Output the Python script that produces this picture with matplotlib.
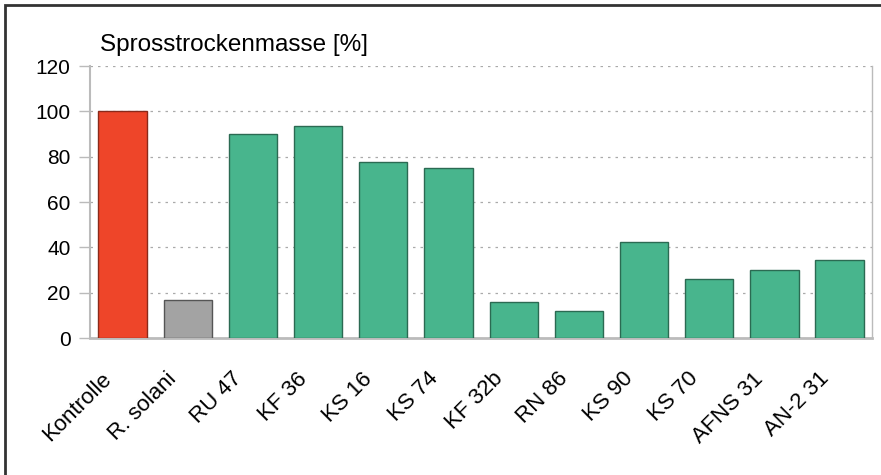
import matplotlib.pyplot as plt
from matplotlib.patches import Rectangle

plt.rcParams['font.family'] = ['Liberation Sans', 'DejaVu Sans']

# Sprosstrockenmasse relativ zur Kontrolle
labels = ["Kontrolle", "R. solani", "RU 47", "KF 36", "KS 16", "KS 74",
          "KF 32b", "RN 86", "KS 90", "KS 70", "AFNS 31", "AN-2 31"]
values = [100, 17, 90, 93.5, 77.6, 75, 15.8, 12.2, 42.3, 25.9, 29.9, 34.3]
y_ticks = [0, 20, 40, 60, 80, 100, 120]

face = ["#EE4529", "#A3A3A3"] + ["#48B58D"] * 10
edge = ["#8A2A1A", "#555555"] + ["#2B6A52"] * 10

fig = plt.figure(figsize=(8.81, 4.75), dpi=100)
ax = fig.add_axes([0.102, 0.288, 0.888, 0.573])

x = list(range(len(labels)))
ax.bar(x, values, width=0.74, color=face, edgecolor=edge, linewidth=1.0, zorder=3)

ax.set_xlim(-0.5, len(labels) - 0.5)
ax.set_ylim(0, 120)
ax.set_yticks(y_ticks)
ax.set_yticklabels([str(t) for t in y_ticks], fontsize=15)
ax.yaxis.grid(True, linestyle=(0, (2, 4)), color="#AAAAAA", linewidth=0.9, zorder=0)

# Kategorienamen schräg unter den Balken
ax.set_xticks(x)
ax.set_xticklabels([])
ax.tick_params(axis="x", length=0)
for xi, name in zip(x, labels):
    ax.annotate(name, xy=(xi, 0), xycoords=("data", "axes fraction"),
                xytext=(-10, -27), textcoords="offset points",
                rotation=45, rotation_mode="anchor", ha="right", va="center",
                fontsize=16)
ax.tick_params(axis="y", length=8, color="#BBBBBB", width=1.0, pad=6)

for side in ["left", "right", "bottom"]:
    ax.spines[side].set_color("#BBBBBB")
ax.spines["left"].set_linewidth(1.5)
ax.spines["right"].set_linewidth(1.0)
ax.spines["bottom"].set_linewidth(2.0)
ax.spines["top"].set_visible(False)

fig.text(100 / 881, 1 - 45 / 475, "Sprosstrockenmasse [%]", fontsize=17.5,
         ha="left", va="center")

# Rahmen um die Grafik
fig.patches.append(Rectangle((5 / 881, -0.1), 1.1, 1 - 5 / 475 + 0.1,
                             transform=fig.transFigure, fill=False,
                             edgecolor="#333333", linewidth=2.0))

fig.savefig("out.png", dpi=100)
